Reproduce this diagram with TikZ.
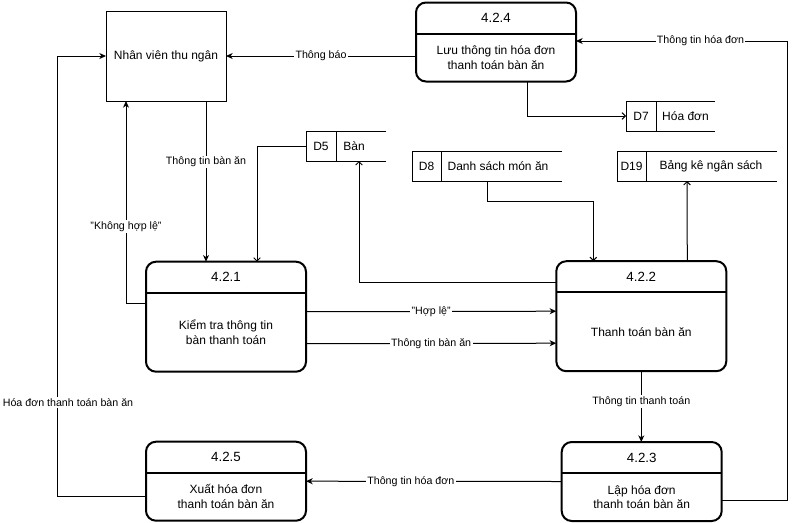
\documentclass[tikz,border=0pt]{standalone}
\usepackage{fontspec}
\setmainfont{Liberation Sans}
\usetikzlibrary{arrows.meta, positioning, calc}

\begin{document}
\begin{tikzpicture}[x=0.75pt, y=-0.75pt, line width=0.75pt,
        font=\fontsize{9}{11}\selectfont,
        entity/.style={draw, minimum width=90pt, minimum height=67.5pt, inner sep=0pt, outer sep=0pt},
        proc/.style={draw, rounded corners=7.5pt, line width=1.5pt, inner sep=0pt, outer sep=0pt},
        head/.style={minimum height=22.5pt, inner sep=0pt, font=\fontsize{10}{12}\selectfont},
        body/.style={align=center, inner sep=0pt},
        store/.style={minimum height=22.5pt, inner sep=0pt, outer sep=0pt},
        lbl/.style={fill=white, inner sep=1pt, font=\fontsize{8}{9.6}\selectfont},
        flow/.style={-{Stealth[length=5pt, width=4.5pt, inset=1.5pt]}},
        sflow/.style={-{Straight Barb[length=2.5pt, width=5pt]}}]
    \useasboundingbox (0,0) rectangle (795,522);

    % external entity
    \node[entity] (nv) at (166,56) {Nhân viên thu ngân};

    % processes
    \node[proc, minimum width=120pt, minimum height=59.25pt] (p424) at (496,42) {};
    \node[proc, minimum width=120pt, minimum height=82.5pt] (p421) at (226,316.7) {};
    \node[proc, minimum width=127.5pt, minimum height=82.5pt] (p422) at (641.3,316.2) {};
    \node[proc, minimum width=120pt, minimum height=59.25pt] (p423) at (641.7,481.5) {};
    \node[proc, minimum width=120pt, minimum height=59.25pt] (p425) at (226,481.2) {};
    \foreach \p/\n in {p424/4.2.4, p421/4.2.1, p422/4.2.2, p423/4.2.3, p425/4.2.5} {
        \node[head, below=0pt of \p.north] (\p-h) {\n};
        \draw[line width=1.5pt] (\p-h.south -| \p.west) -- (\p-h.south -| \p.east);
    }
    \node[body] (p424-b) at ($(p424-h.south)!0.5!(p424.south)$) {Lưu thông tin hóa đơn\\thanh toán bàn ăn};
    \node[body] (p421-b) at ($(p421-h.south)!0.5!(p421.south)$) {Kiểm tra thông tin\\bàn thanh toán};
    \node[body] (p422-b) at ($(p422-h.south)!0.5!(p422.south)$) {Thanh toán bàn ăn};
    \node[body] (p423-b) at ($(p423-h.south)!0.5!(p423.south)$) {Lập hóa đơn\\thanh toán bàn ăn};
    \node[body] (p425-b) at ($(p425-h.south)!0.5!(p425.south)$) {Xuất hóa đơn\\thanh toán bàn ăn};

    % data stores
    \node[store, minimum width=60pt] (d5) at (346,146) {};
    \node[store, minimum width=66.75pt] (d7) at (670.5,116) {};
    \node[store, minimum width=112.5pt] (d8) at (487,166) {};
    \node[store, minimum width=120pt] (d19) at (697,166) {};
    \foreach \s/\d/\i in {d5/30/D5, d7/30/D7, d8/29/D8, d19/29/D19} {
        \draw (\s.north east) -- (\s.north west) -- (\s.south west) -- (\s.south east);
        \draw ($(\s.north west)+(\d,0)$) -- ($(\s.south west)+(\d,0)$);
        \node (\s-id) at ($(\s.west)+({\d/2},0)$) {\i};
    }
    \node (d5-name) at (354,146) {Bàn};
    \node (d7-name) at (685.5,116) {Hóa đơn};
    \node (d8-name) at (498,166) {Danh sách món ăn};
    \node (d19-name) at (711,166) {Bảng kê ngân sách};

    % flows
    \coordinate (cR) at (787,41);
    \coordinate (cL) at (57,56);
    \draw[flow] (p424.west |- nv) -- node[lbl]{Thông báo} (nv.east);
    \draw[flow] ($(p423.east)+(0,19)$) -| (cR) -- node[lbl, pos=0.41]{Thông tin hóa đơn} (p424.east |- cR);
    \draw[sflow] ($(p424.south)+(31,0)$) |- (d7.west);
    \draw[sflow] ($(d8.south west)+(75,0)$) -- ++(0,20) -| ($(p422.north west)+(37,0)$);
    \draw[sflow] ($(p422.north west)+(131,0)$) -- ($(d19.south west)+(70,0)$);
    \draw[sflow] ($(p422.north west)+(0,21)$) -| ($(d5.south west)+(53,0)$);
    \draw[sflow] (d5.west) -| ($(p421.north west)+(111,0)$);
    \draw[flow] ($(nv.south)+(40,0)$) -- node[lbl, pos=0.38]{Thông tin bàn ăn} ($(p421.north west)+(60,0)$);
    \draw[flow] ($(p421.north west)+(0,42)$) -| node[lbl, pos=0.69]{"Không hợp lệ"} ($(nv.south west)+(20,0)$);
    \draw[flow] ($(p421.north east)+(0,50)$) -- node[lbl]{"Hợp lệ"} ($(p422.north west)+(0,50)$);
    \draw[flow] ($(p421.north east)+(0,82)$) -- node[lbl]{Thông tin bàn ăn} ($(p422.north west)+(0,82)$);
    \draw[flow] (p422.south) -- node[lbl, pos=0.43]{Thông tin thanh toán} (p422.south |- p423.north);
    \draw[flow] (p423.west) -- node[lbl, pos=0.59]{Thông tin hóa đơn} (p425.east);
    \draw[flow] ($(p425.north west)+(0,55)$) -| node[lbl, pos=0.607, xshift=8.25pt]{Hóa đơn thanh toán bàn ăn} (cL) -- (nv.west);
\end{tikzpicture}
\end{document}
